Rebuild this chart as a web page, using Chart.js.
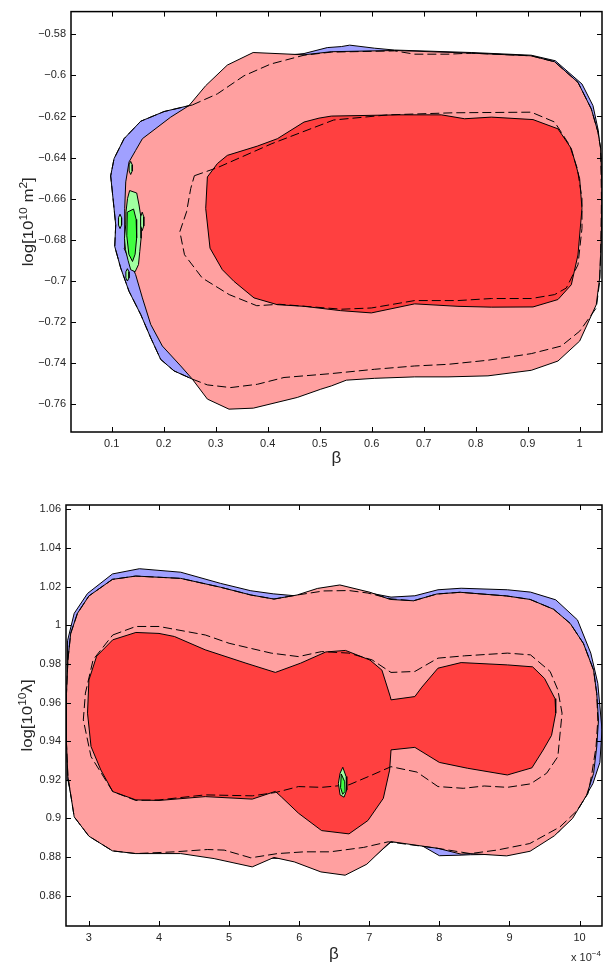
<!DOCTYPE html>
<html>
<head>
<meta charset="utf-8">
<script src="https://cdn.jsdelivr.net/npm/chart.js@4.4.0/dist/chart.umd.min.js"></script>
<style>
  html, body { margin: 0; padding: 0; background: #fff; }
  #wrap { position: relative; width: 606px; height: 965px; }
  canvas { position: absolute; left: 0; }
</style>
</head>
<body>
<div id="wrap">
  <canvas id="topChart" width="606" height="470" style="top:0px"></canvas>
  <canvas id="bottomChart" width="606" height="485" style="top:480px"></canvas>
</div>
<script>
// ---- top panel: beta vs log[10^10 m^2] ----
const topXTicks = [0.1, 0.2, 0.3, 0.4, 0.5, 0.6, 0.7, 0.8, 0.9, 1];
const topYTicks = [-0.76, -0.74, -0.72, -0.7, -0.68, -0.66, -0.64, -0.62, -0.6, -0.58];

const topBlue = [[0.2487,-0.6147],[0.30,-0.605],[0.37,-0.592],[0.4699,-0.5894],[0.5147,-0.5865],[0.5417,-0.586],
  [0.5577,-0.5853],[0.6058,-0.5868],[0.6442,-0.5877],[0.7917,-0.5889],[0.907,-0.5902],[0.9532,-0.5929],[1.0045,-0.6042],
  [1.0256,-0.6147],[1.036,-0.627],[1.041,-0.64],[1.04,-0.68],[1.03,-0.71],[1.0,-0.727],[0.95,-0.735],[0.8,-0.74],
  [0.6,-0.743],[0.45,-0.748],[0.33,-0.752],[0.2551,-0.7477],[0.2199,-0.7437],[0.1942,-0.7381],[0.175,-0.7276],
  [0.1558,-0.7163],[0.1333,-0.705],[0.1173,-0.6937],[0.1058,-0.6832],[0.1077,-0.6727],[0.1032,-0.6615],[0.098,-0.6489],
  [0.1045,-0.6405],[0.1237,-0.6308],[0.1558,-0.6223],[0.2006,-0.6176]];

const topPink = [[0.372,-0.5889],[0.47,-0.590],[0.5224,-0.5885],[0.6442,-0.5879],[0.7917,-0.5892],[0.907,-0.5905],
  [0.9519,-0.5934],[0.9968,-0.6034],[1.0224,-0.6163],[1.0353,-0.6276],[1.0404,-0.6356],[1.043,-0.655],[1.0417,-0.6792],
  [1.0385,-0.6985],[1.032,-0.7115],[1.0,-0.7292],[0.9583,-0.7389],[0.907,-0.7434],[0.8237,-0.7461],[0.7468,-0.7466],
  [0.6827,-0.7466],[0.6058,-0.7473],[0.5513,-0.7482],[0.5224,-0.751],[0.502,-0.7526],[0.457,-0.7566],[0.3724,-0.7618],
  [0.3256,-0.7623],[0.284,-0.7574],[0.2551,-0.7477],[0.2327,-0.7413],[0.1974,-0.7316],[0.175,-0.7211],[0.159,-0.7082],
  [0.146,-0.6969],[0.1237,-0.684],[0.125,-0.6647],[0.127,-0.6518],[0.1333,-0.6421],[0.146,-0.6365],[0.159,-0.6308],
  [0.2135,-0.6203],[0.2487,-0.6147],[0.2808,-0.605],[0.3224,-0.595]];

const topRed = [[0.284,-0.6494],[0.3032,-0.6429],[0.3224,-0.6389],[0.3801,-0.6344],[0.4186,-0.6308],[0.4699,-0.6227],
  [0.4987,-0.6208],[0.5224,-0.6198],[0.6506,-0.6192],[0.734,-0.6192],[0.7788,-0.6211],[0.8301,-0.6203],[0.9103,-0.6215],
  [0.9583,-0.626],[0.984,-0.6356],[1.0,-0.6502],[1.0045,-0.6647],[0.9968,-0.6873],[0.984,-0.7018],[0.9583,-0.709],
  [0.9103,-0.7126],[0.8301,-0.7127],[0.766,-0.7123],[0.6827,-0.7111],[0.5994,-0.7155],[0.5404,-0.7144],[0.4699,-0.7123],
  [0.4186,-0.7115],[0.3737,-0.7082],[0.3353,-0.7002],[0.3128,-0.6945],[0.2891,-0.684],[0.2808,-0.6647]];

const topDashOuter = [[0.2551,-0.6144],[0.3032,-0.609],[0.3545,-0.6002],[0.4058,-0.5945],[0.4699,-0.5902],[0.5224,-0.5887],
  [0.6442,-0.5881],[0.6827,-0.5897],[0.7468,-0.5897],[0.7917,-0.5892],[0.907,-0.5905],[0.9519,-0.5934],[0.9968,-0.6034],
  [1.0224,-0.6163],[1.0353,-0.6276],[1.0404,-0.6356],[1.042,-0.66],[1.0405,-0.685],[1.0385,-0.7002],[1.032,-0.7131],
  [1.0,-0.7244],[0.9647,-0.7316],[0.907,-0.7353],[0.8237,-0.7385],[0.7468,-0.7405],[0.6827,-0.7413],[0.6058,-0.7429],
  [0.5224,-0.745],[0.4699,-0.7461],[0.4314,-0.7469],[0.3801,-0.7502],[0.3288,-0.7518],[0.284,-0.7505],[0.2551,-0.7477],
  [0.2199,-0.7437],[0.1942,-0.7381],[0.175,-0.7276],[0.1558,-0.7163],[0.1333,-0.705],[0.1173,-0.6937],[0.1058,-0.6832],
  [0.1077,-0.6727],[0.1032,-0.6615],[0.098,-0.6489],[0.1045,-0.6405],[0.1237,-0.6308],[0.1558,-0.6223],[0.2006,-0.6176]];

const topDashInner = [[0.259,-0.6488],[0.304,-0.6448],[0.408,-0.6332],[0.527,-0.6217],[0.632,-0.6192],[0.7564,-0.6182],
  [0.907,-0.6179],[0.9519,-0.6227],[0.9808,-0.634],[0.9955,-0.6453],[1.0045,-0.6598],[1.0045,-0.6744],[0.9968,-0.6921],
  [0.9744,-0.7034],[0.9519,-0.7066],[0.907,-0.7085],[0.8301,-0.7085],[0.766,-0.7095],[0.6827,-0.7095],[0.5994,-0.7131],
  [0.542,-0.7137],[0.423,-0.7113],[0.379,-0.712],[0.326,-0.7066],[0.274,-0.6985],[0.24,-0.6872],[0.231,-0.676],
  [0.244,-0.6663],[0.252,-0.655]];

const topGreenLight = [[0.1345,-0.6560],[0.1481,-0.6572],[0.1525,-0.663],[0.1565,-0.6695],[0.1565,-0.6792],[0.1540,-0.6856],
  [0.1515,-0.692],[0.1450,-0.6955],[0.1365,-0.6945],[0.1315,-0.6900],[0.1265,-0.6848],[0.1245,-0.6792],[0.1270,-0.6727],
  [0.1275,-0.6663],[0.1305,-0.6598]];
const topGreenDark = [[0.1300,-0.6665],[0.1420,-0.6650],[0.1470,-0.6700],[0.1480,-0.6790],[0.1450,-0.6870],
  [0.1400,-0.6905],[0.1330,-0.6870],[0.1290,-0.6780]];
const topGreenDots = [
  [[0.1365,-0.6418],[0.1395,-0.6435],[0.1395,-0.6465],[0.1365,-0.6482],[0.1335,-0.6465],[0.1335,-0.6435]],
  [[0.116,-0.6675],[0.119,-0.6692],[0.119,-0.6728],[0.116,-0.6745],[0.113,-0.6728],[0.113,-0.6692]],
  [[0.1587,-0.6665],[0.1617,-0.6688],[0.1617,-0.6732],[0.1587,-0.6755],[0.1557,-0.6732],[0.1557,-0.6688]],
  [[0.1302,-0.694],[0.1332,-0.6955],[0.1332,-0.6985],[0.1302,-0.700],[0.1272,-0.6985],[0.1272,-0.6955]]
];

// ---- bottom panel: beta (x 1e-4) vs log[10^10 lambda] ----
const botXTicks = [3, 4, 5, 6, 7, 8, 9, 10];
const botYTicks = [0.86, 0.88, 0.9, 0.92, 0.94, 0.96, 0.98, 1, 1.02, 1.04, 1.06];

const botBlue = [[2.69,0.94],[2.69,0.975],[2.70,0.992],[2.79,1.0062],[2.98,1.0165],[3.336,1.0266],[3.72,1.0293],
  [4.31,1.0275],[4.88,1.0217],[5.31,1.0179],[5.63,1.0163],[5.97,1.0152],[6.26,1.0187],[6.58,1.0205],[7.01,1.0167],
  [7.31,1.0146],[7.65,1.0153],[7.98,1.0184],[8.31,1.0192],[8.97,1.0184],[9.3,1.0172],[9.66,1.0132],[9.97,1.0028],
  [10.16,0.9856],[10.26,0.97],[10.32,0.946],[10.29,0.929],[10.19,0.918],[10.0,0.906],[9.7,0.893],[9.3,0.885],
  [8.97,0.8815],[8.44,0.8812],[8.31,0.881],[8.0,0.8807],[7.65,0.888],[7.31,0.8878],[7.0,0.878],[6.6,0.873],
  [6.0,0.879],[5.0,0.88],[4.0,0.884],[3.3,0.886],[3.0,0.893],[2.8,0.902],[2.70,0.92]];

const botPink = [[2.70,0.982],[2.74,0.9958],[2.836,1.0062],[3.0,1.0152],[3.336,1.0238],[3.668,1.0255],[4.31,1.0243],
  [4.88,1.0197],[5.31,1.0157],[5.64,1.0136],[5.97,1.0157],[6.26,1.0191],[6.58,1.0209],[7.01,1.0171],[7.297,1.0134],
  [7.63,1.0127],[7.963,1.0162],[8.296,1.0171],[8.96,1.0152],[9.294,1.0134],[9.63,1.0083],[9.866,1.001],[10.055,0.9906],
  [10.2,0.9768],[10.245,0.9647],[10.27,0.9509],[10.245,0.9371],[10.2,0.9233],[10.1,0.912],[9.9,0.9],[9.64,0.891],
  [9.294,0.883],[8.96,0.8806],[8.438,0.8818],[8.31,0.8815],[7.98,0.8845],[7.31,0.888],[7.273,0.887],[6.965,0.8763],
  [6.655,0.8706],[6.31,0.8723],[5.93,0.8775],[5.64,0.8798],[5.33,0.8749],[4.786,0.8792],[4.31,0.8818],[3.668,0.8818],
  [3.336,0.8832],[3.0,0.8908],[2.79,0.9008],[2.70,0.9216],[2.68,0.9388],[2.68,0.9647]];

const botRed = [[3.11,0.984],[3.34,0.9925],[3.67,0.9963],[4.0,0.9958],[4.22,0.9942],[4.66,0.9873],[5.24,0.9804],
  [5.66,0.9756],[6.02,0.9804],[6.38,0.9862],[6.66,0.987],[7.01,0.982],[7.18,0.9768],[7.3,0.963],[7.31,0.9614],
  [7.65,0.9631],[7.75,0.968],[7.98,0.9778],[8.31,0.9807],[8.97,0.9795],[9.33,0.9785],[9.5,0.9725],[9.65,0.962],
  [9.66,0.9545],[9.6,0.943],[9.48,0.9354],[9.32,0.9262],[8.97,0.9225],[8.4,0.926],[8.0,0.929],[7.65,0.9368],
  [7.31,0.9355],[7.29,0.925],[7.2,0.9104],[6.98,0.8989],[6.71,0.892],[6.32,0.8937],[5.99,0.9027],[5.75,0.911],
  [5.66,0.914],[5.33,0.910],[4.66,0.9113],[4.0,0.9093],[3.67,0.9096],[3.34,0.9139],[3.17,0.9251],[3.03,0.9372],
  [2.98,0.9545],[3.0,0.9717]];

const botDashOuter = [[2.70,0.982],[2.74,0.9958],[2.836,1.0062],[3.0,1.0152],[3.336,1.0238],[3.668,1.0255],[4.31,1.0243],
  [4.88,1.0197],[5.31,1.0157],[5.64,1.0136],[5.99,1.0158],[6.35,1.0178],[6.71,1.018],[6.98,1.0167],[7.31,1.0137],
  [7.63,1.0127],[7.963,1.0162],[8.296,1.0171],[8.96,1.0152],[9.294,1.0134],[9.63,1.0083],[9.866,1.001],[10.055,0.9906],
  [10.2,0.9768],[10.245,0.9647],[10.26,0.9509],[10.235,0.9371],[10.17,0.922],[10.12,0.9129],[9.96,0.9039],[9.72,0.8956],
  [9.29,0.887],[8.82,0.8836],[8.44,0.8818],[7.98,0.8845],[7.27,0.8879],[6.92,0.885],[6.44,0.8827],[6.07,0.8827],
  [5.69,0.8818],[5.31,0.8796],[4.93,0.8836],[4.69,0.8839],[4.22,0.8827],[3.668,0.8818],[3.336,0.8832],[3.0,0.8908],
  [2.79,0.9008],[2.70,0.9216],[2.68,0.9388],[2.68,0.9647]];

const botDashInner = [[3.34,0.995],[3.67,0.9994],[4.0,0.9994],[4.66,0.995],[5.0,0.9907],[5.6,0.9856],[5.99,0.9838],
  [6.32,0.9864],[6.71,0.9856],[7.04,0.9821],[7.31,0.9756],[7.65,0.9761],[7.98,0.983],[8.36,0.9842],[8.97,0.9856],
  [9.3,0.9847],[9.58,0.9761],[9.69,0.9666],[9.75,0.9545],[9.69,0.932],[9.53,0.9234],[9.3,0.9179],[8.97,0.9161],
  [8.64,0.9168],[8.34,0.9156],[7.98,0.9165],[7.68,0.924],[7.31,0.9268],[7.04,0.9225],[6.71,0.9174],[6.32,0.9161],
  [5.99,0.9165],[5.66,0.9134],[5.33,0.9117],[4.66,0.9122],[4.0,0.9096],[3.67,0.9093],[3.34,0.9139],[3.03,0.932],
  [2.92,0.951],[2.95,0.9649],[3.06,0.9822]];

const botGreenLight = [[6.622,0.9265],[6.669,0.9217],[6.679,0.9148],[6.64,0.911],[6.583,0.9122],[6.559,0.9182],[6.583,0.9234]];
const botGreenDark = [[6.6,0.923],[6.65,0.919],[6.655,0.914],[6.62,0.9125],[6.59,0.916]];

// colours
const BLUE = '#a0a0ff', PINK = '#ffa0a0', RED = '#ff4040', LGREEN = '#a0ffa0', GREEN = '#40ff40';

Chart.defaults.font.family = '"Liberation Sans", Arial, Helvetica, sans-serif';
Chart.defaults.font.size = 11;
Chart.defaults.color = '#262626';

function poly(pts, fillColor, order, dash) {
  const data = pts.map(p => ({ x: p[0], y: p[1] }));
  data.push({ x: pts[0][0], y: pts[0][1] });
  return {
    data: data,
    showLine: true,
    fill: fillColor ? 'shape' : false,
    backgroundColor: fillColor || 'rgba(0,0,0,0)',
    borderColor: '#000',
    borderWidth: 1,
    borderDash: dash || [],
    pointRadius: 0,
    pointHoverRadius: 0,
    tension: 0,
    order: order
  };
}

function fmt(v) {
  return String(parseFloat(v.toFixed(3))).replace('-', '\u2212');
}

function axis(min, max, ticks, key, size) {
  return {
    type: 'linear', min: min, max: max,
    grid: { display: false, drawTicks: false },
    border: { display: false },
    ticks: { padding: 5, autoSkip: false, maxRotation: 0, callback: v => fmt(v) },
    afterBuildTicks: s => { s.ticks = ticks.map(v => ({ value: v })); },
    afterFit: s => { s[key] = size; }
  };
}

// draw text with superscript parts, centred at (0,0)
function richText(ctx, parts, size, supSize, rise) {
  let total = 0;
  parts.forEach(p => {
    ctx.font = (p.sup ? supSize : size) + 'px "Liberation Sans", Arial, sans-serif';
    p.w = ctx.measureText(p.t).width;
    total += p.w;
  });
  let x = -total / 2;
  ctx.textAlign = 'left';
  ctx.textBaseline = 'alphabetic';
  parts.forEach(p => {
    ctx.font = (p.sup ? supSize : size) + 'px "Liberation Sans", Arial, sans-serif';
    ctx.fillText(p.t, x, p.sup ? -rise : 0);
    x += p.w;
  });
}

const matlabBox = {
  id: 'matlabBox',
  afterDraw(chart, args, o) {
    const { ctx, chartArea: a, scales } = chart;
    const xs = scales.x, ys = scales.y;
    ctx.save();
    ctx.strokeStyle = '#000';
    ctx.lineWidth = 1.5;
    ctx.strokeRect(a.left, a.top, a.right - a.left, a.bottom - a.top);
    ctx.lineWidth = 1;
    ctx.beginPath();
    xs.ticks.forEach(t => {
      const px = Math.round(xs.getPixelForValue(t.value)) + 0.5;
      ctx.moveTo(px, a.bottom); ctx.lineTo(px, a.bottom - 5);
      ctx.moveTo(px, a.top); ctx.lineTo(px, a.top + 5);
    });
    ys.ticks.forEach(t => {
      const py = Math.round(ys.getPixelForValue(t.value)) + 0.5;
      ctx.moveTo(a.left, py); ctx.lineTo(a.left + 5, py);
      ctx.moveTo(a.right, py); ctx.lineTo(a.right - 5, py);
    });
    ctx.stroke();

    ctx.fillStyle = '#262626';
    // y title, rotated
    ctx.save();
    ctx.translate(o.yTitleX, (a.top + a.bottom) / 2);
    ctx.rotate(-Math.PI / 2);
    ctx.scale(1.2, 1);
    ctx.translate(0, 5);
    richText(ctx, o.yTitle, 14, 10, 6);
    ctx.restore();

    // x title
    ctx.font = '17px "Liberation Sans", Arial, sans-serif';
    ctx.textAlign = 'center';
    ctx.textBaseline = 'middle';
    ctx.fillText('\u03b2', (a.left + a.right) / 2, o.xTitleY);

    if (o.exponent) {
      ctx.save();
      ctx.translate(586, o.exponentY);
      richText(ctx, o.exponent, 11, 8, 5);
      ctx.restore();
    }
    ctx.restore();
  }
};

function makeChart(id, datasets, xr, yr, pad, yWidth, xHeight, boxOpts) {
  return new Chart(document.getElementById(id), {
    type: 'scatter',
    data: { datasets: datasets },
    options: {
      responsive: false,
      animation: false,
      devicePixelRatio: 1,
      layout: { padding: pad },
      scales: {
        x: axis(xr[0], xr[1], xr[2], 'height', xHeight),
        y: axis(yr[0], yr[1], yr[2], 'width', yWidth)
      },
      plugins: { legend: { display: false }, tooltip: { enabled: false }, matlabBox: boxOpts }
    },
    plugins: [matlabBox]
  });
}

const DASH = [9, 4];

const topSets = [
  poly(topBlue, BLUE, 10),
  poly(topPink, PINK, 9),
  poly(topRed, RED, 8),
  poly(topDashOuter, null, 7, DASH),
  poly(topDashInner, null, 6, DASH),
  poly(topGreenLight, LGREEN, 5),
  poly(topGreenDark, GREEN, 4)
].concat(topGreenDots.map(d => poly(d, LGREEN, 3)));

makeChart('topChart', topSets,
  [0.0217, 1.043, topXTicks], [-0.7734, -0.569, topYTicks],
  { top: 9, right: 4, left: 0, bottom: 0 }, 71, 38,
  { yTitleX: 28, xTitleY: 458,
    yTitle: [{ t: 'log[10' }, { t: '10', sup: true }, { t: ' m' }, { t: '2', sup: true }, { t: ']' }] });

const botSets = [
  poly(botBlue, BLUE, 10),
  poly(botPink, PINK, 9),
  poly(botRed, RED, 8),
  poly(botDashOuter, null, 7, DASH),
  poly(botDashInner, null, 6, DASH),
  poly(botGreenLight, LGREEN, 5),
  poly(botGreenDark, GREEN, 4)
];

makeChart('bottomChart', botSets,
  [2.673, 10.32, botXTicks], [0.8443, 1.0623, botYTicks],
  { top: 25, right: 4, left: 0, bottom: 0 }, 66, 39,
  { yTitleX: 27, xTitleY: 474, exponentY: 481,
    yTitle: [{ t: 'log[10' }, { t: '10', sup: true }, { t: '\u03bb]' }],
    exponent: [{ t: 'x 10' }, { t: '\u22124', sup: true }] });
</script>
</body>
</html>
